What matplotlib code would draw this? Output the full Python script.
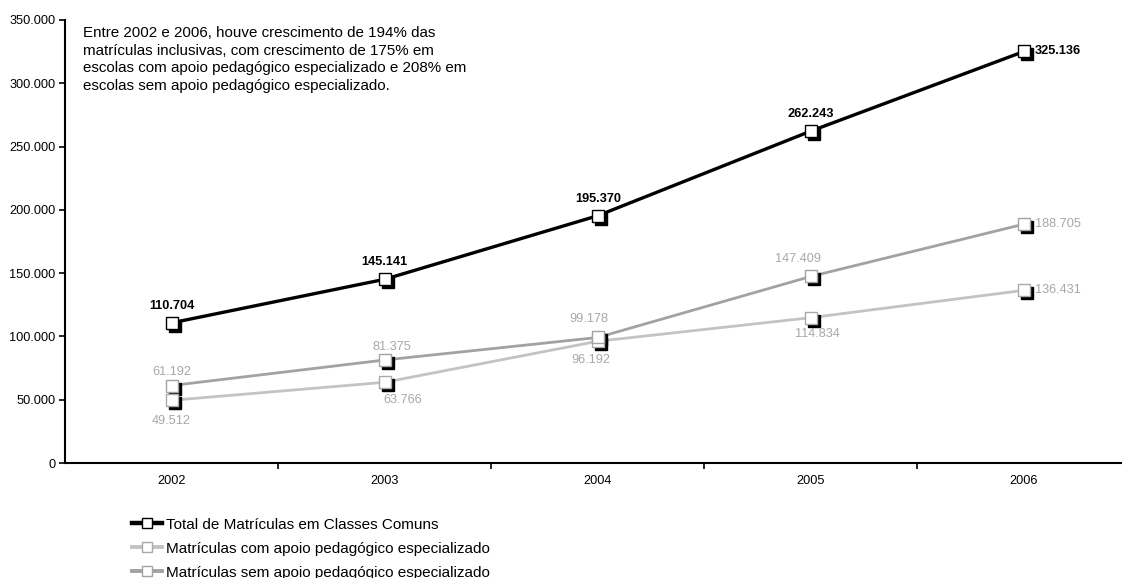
import matplotlib
matplotlib.use("Agg")
import matplotlib.pyplot as plt
from matplotlib.transforms import offset_copy
from matplotlib.ticker import FuncFormatter, FixedLocator
from matplotlib.lines import Line2D

plt.rcParams['font.family'] = ['Liberation Sans', 'DejaVu Sans']

anos = ['2002', '2003', '2004', '2005', '2006']
total = [110704, 145141, 195370, 262243, 325136]
com_apoio = [49512, 63766, 96192, 114834, 136431]
sem_apoio = [61192, 81375, 99178, 147409, 188705]

nome_total = 'Total de Matrículas em Classes Comuns'
nome_com = 'Matrículas com apoio pedagógico especializado'
nome_sem = 'Matrículas sem apoio pedagógico especializado'

texto = ("Entre 2002 e 2006, houve crescimento de 194% das\n"
         "matrículas inclusivas, com crescimento de 175% em\n"
         "escolas com apoio pedagógico especializado e 208% em\n"
         "escolas sem apoio pedagógico especializado.")

# deslocamento dos rotulos em pixels (dx, dy, alinhamento horizontal)
pos_total = [(0, 17, 'center')] * 4 + [(11, 0, 'left')]
pos_com = [(0, -21, 'center'), (18, -18, 'center'), (-7, -19, 'center'),
           (7, -16, 'center'), (11, 0, 'left')]
pos_sem = [(0, 14, 'center'), (7, 13, 'center'), (-9, 18, 'center'),
           (-13, 17, 'center'), (11, 0, 'left')]


def milhar(v, pos=None):
    return f"{int(v):,}".replace(",", ".")


fig = plt.figure(figsize=(11.22, 5.78), dpi=100)
ax = fig.add_axes([65 / 1122, 1 - 463 / 578, 1 - 65 / 1122, (463 - 20) / 578])

x = list(range(len(anos)))
sombra = offset_copy(ax.transData, fig=fig, x=3, y=-3, units='dots')

series = [
    (total, 'black', 'black', 2.4, nome_total, pos_total, 'black', 'bold'),
    (com_apoio, '#c3c3c3', '#a9a9a9', 2.0, nome_com, pos_com, '#a8a8a8', 'normal'),
    (sem_apoio, '#a2a2a2', '#a2a2a2', 2.0, nome_sem, pos_sem, '#a8a8a8', 'normal'),
]

for vals, cor, borda, lw, nome, posicoes, cor_txt, peso in series:
    ax.plot(x, vals, color=cor, lw=lw, zorder=2)
    ax.plot(x, vals, ls='none', marker='s', ms=9, mfc='black', mec='black',
            transform=sombra, zorder=3)
    ax.plot(x, vals, ls='none', marker='s', ms=9, mfc='white', mec=borda,
            mew=1.0, zorder=4)
    for xi, v, (dx, dy, ha) in zip(x, vals, posicoes):
        ax.annotate(milhar(v), (xi, v), xytext=(dx, dy), textcoords='offset pixels',
                    ha=ha, va='center', fontsize=9.2, color=cor_txt,
                    fontweight=peso, zorder=5)

ax.set_ylim(0, 350000)
ax.set_xlim(-0.5, 4.46)
ax.yaxis.set_major_locator(FixedLocator(range(0, 350001, 50000)))
ax.yaxis.set_major_formatter(FuncFormatter(milhar))
ax.set_xticks(x)
ax.set_xticklabels(anos)
ax.set_xticks([0.5, 1.5, 2.5, 3.5], minor=True)
ax.tick_params(axis='x', which='major', length=0, pad=9, labelsize=9.2)
ax.tick_params(axis='x', which='minor', length=4, width=1.2, direction='out')
ax.tick_params(axis='y', length=4, width=1.2, direction='out', labelsize=9.2, pad=3)

for lado in ['top', 'right']:
    ax.spines[lado].set_visible(False)
for lado in ['left', 'bottom']:
    ax.spines[lado].set_linewidth(1.5)

fig.text(83 / 1122, 1 - 26 / 578, texto, ha='left', va='top', fontsize=10.9,
         linespacing=1.33)

alcas = [Line2D([], [], color=c, lw=lw + 0.8, marker='s', ms=7, mfc='white',
                mec=b, mew=1.0)
         for _, c, b, lw, _, _, _, _ in series]
fig.legend(alcas, [s[4] for s in series], loc='upper left',
           bbox_to_anchor=(124 / 1122, 1 - 510 / 578), frameon=False,
           fontsize=11, handlelength=2.0, handletextpad=0.25,
           labelspacing=0.65, borderpad=0)

fig.savefig('out.png', dpi=100)
